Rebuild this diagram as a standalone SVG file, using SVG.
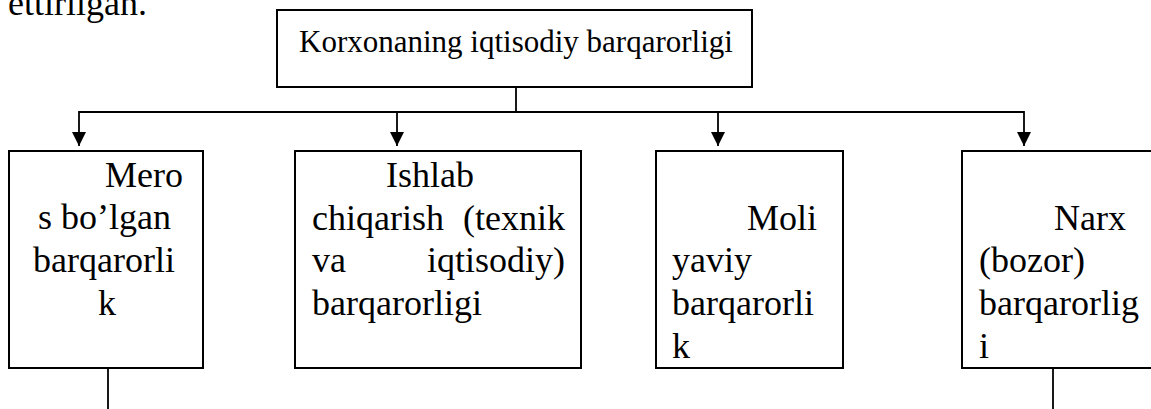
<svg xmlns="http://www.w3.org/2000/svg" width="1151" height="409" viewBox="0 0 1151 409">
<style>
.box{fill:#fff;stroke:#000;stroke-width:2}
.t{font-family:"Liberation Serif","Times New Roman",serif;font-size:36px;fill:#000}
.tt{font-family:"Liberation Serif","Times New Roman",serif;font-size:31px;fill:#000}
.ln{stroke:#000;stroke-width:1.8;fill:none}
.arr{stroke:#000;stroke-width:1.8;fill:none;marker-end:url(#ah)}
</style>
<defs>
<marker id="ah" viewBox="0 0 14 14" markerWidth="14" markerHeight="14" refX="14" refY="7" orient="auto" markerUnits="userSpaceOnUse">
<path d="M0,0 L14,7 L0,14 Z" fill="#000"/>
</marker>
</defs>
<text class="t" x="8" y="15">ettirilgan.</text>
<g id="connectors">
<line class="ln" x1="516" y1="87" x2="516" y2="112"/>
<line class="ln" x1="79" y1="112" x2="1024" y2="112"/>
<line class="arr" x1="79" y1="111.1" x2="79" y2="146"/>
<line class="arr" x1="397" y1="111.1" x2="397" y2="146"/>
<line class="arr" x1="718" y1="111.1" x2="718" y2="146"/>
<line class="arr" x1="1024" y1="111.1" x2="1024" y2="146"/>
<line class="ln" x1="108" y1="368" x2="108" y2="409"/>
<line class="ln" x1="1053" y1="368" x2="1053" y2="409"/>
</g>
<g id="top">
<rect class="box" x="277" y="10" width="475" height="77"/>
<text class="tt" x="299" y="52">Korxonaning iqtisodiy barqarorligi</text>
</g>
<g id="n1">
<rect class="box" x="9" y="151" width="194" height="217"/>
<text class="t" x="105" y="187">Mero</text>
<text class="t" x="38" y="229">s bo’lgan</text>
<text class="t" x="33" y="272">barqarorli</text>
<text class="t" x="98" y="315">k</text>
</g>
<g id="n2">
<rect class="box" x="295" y="151" width="286" height="217"/>
<text class="t" x="386" y="187">Ishlab</text>
<text class="t" x="312" y="230">chiqarish</text>
<text class="t" x="565" y="230" text-anchor="end">(texnik</text>
<text class="t" x="312" y="272">va</text>
<text class="t" x="565" y="272" text-anchor="end">iqtisodiy)</text>
<text class="t" x="312" y="315">barqarorligi</text>
</g>
<g id="n3">
<rect class="box" x="656" y="151" width="187" height="217"/>
<text class="t" x="817" y="230" text-anchor="end">Moli</text>
<text class="t" x="672" y="272">yaviy</text>
<text class="t" x="672" y="315">barqarorli</text>
<text class="t" x="672" y="358">k</text>
</g>
<g id="n4">
<rect class="box" x="962" y="151" width="200" height="217"/>
<text class="t" x="1126" y="230" text-anchor="end">Narx</text>
<text class="t" x="979" y="272">(bozor)</text>
<text class="t" x="979" y="315">barqarorlig</text>
<text class="t" x="979" y="358">i</text>
</g>
</svg>
